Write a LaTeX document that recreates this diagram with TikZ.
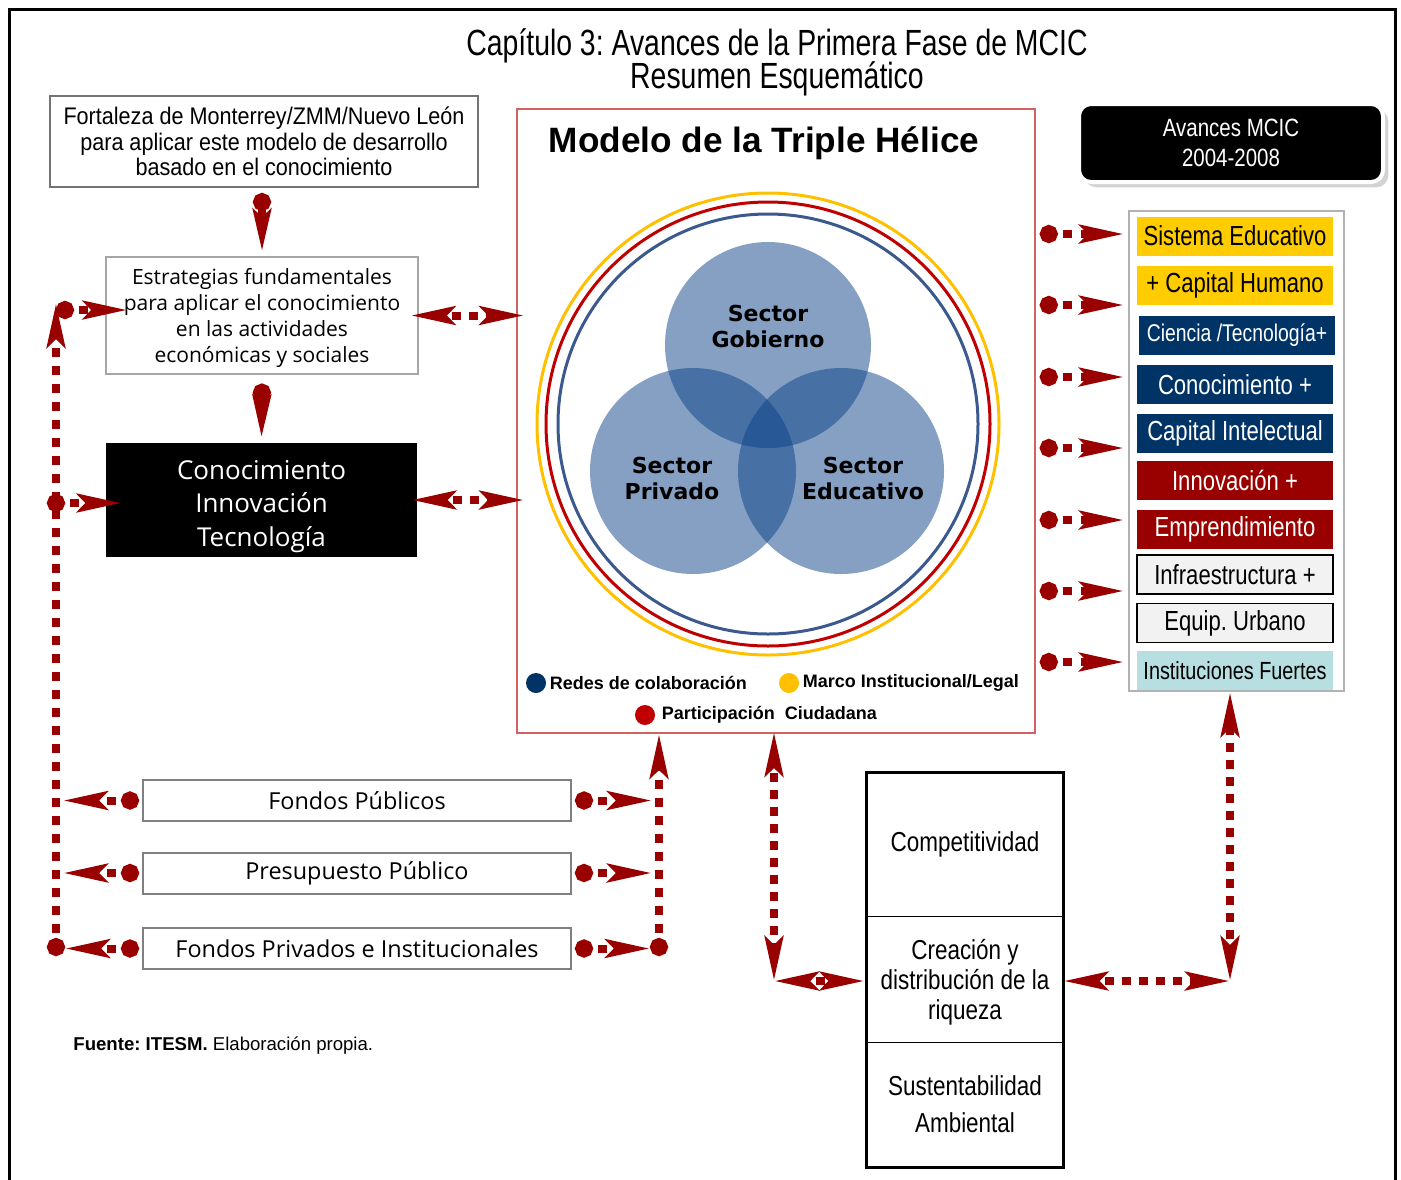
\documentclass[tikz,border=0pt]{standalone}
\usepackage{fontspec}
\setmainfont{Liberation Sans}
\newfontfamily\narrowfont[FakeStretch=0.82]{Liberation Sans}
\newfontfamily\listfont[FakeStretch=0.8]{Liberation Sans}
\newfontfamily\titlefont[FakeStretch=0.78]{Liberation Sans}
\newfontfamily\medfont[FakeStretch=0.9]{Liberation Sans}
\newfontfamily\humfont{Open Sans}
\newfontfamily\sectfont{DejaVu Sans}
\usetikzlibrary{positioning,arrows.meta,shadows}
\definecolor{linkRed}{RGB}{153,0,0}
\definecolor{modelRed}{RGB}{214,96,96}
\definecolor{eduYellow}{RGB}{255,204,0}
\definecolor{navyBlue}{RGB}{0,51,102}
\definecolor{innovRed}{RGB}{153,0,0}
\definecolor{infraGray}{RGB}{242,242,242}
\definecolor{instCyan}{RGB}{183,222,224}
\definecolor{ringYellow}{RGB}{255,192,0}
\definecolor{ringRed}{RGB}{192,0,0}
\definecolor{ringBlue}{RGB}{59,89,140}
\definecolor{vennBlue}{RGB}{11,65,135}
\frenchspacing

\begin{document}
\begin{tikzpicture}[x=.5pt,y=-.5pt,align=center,
  link/.style={draw=linkRed,line width=4pt,dash pattern=on 4.5pt off 4.5pt,dash phase=4.5pt,
    {Circle[length=9pt]}-{Stealth[length=22pt,width=9pt,inset=4pt]}},
  dbl/.style={draw=linkRed,line width=4pt,dash pattern=on 4.5pt off 4pt,dash phase=4pt,
    {Stealth[length=22pt,width=9pt,inset=4pt]}-{Stealth[length=22pt,width=9pt,inset=4pt]}},
  drop/.style={draw=linkRed,line width=4pt,
    {Circle[length=9pt]}-{Stealth[length=21pt,width=9pt,inset=4pt]}},
  listitem/.style={minimum width=98pt,minimum height=19.5pt,inner sep=0pt,
    font=\listfont\fontsize{13.8}{14}\selectfont},
  fondo/.style={draw=black!50,line width=1pt,minimum width=214pt,minimum height=20.5pt,
    inner sep=0pt,font=\humfont\fontsize{11.7}{12}\selectfont},
  venn/.style={circle,fill=vennBlue,fill opacity=.5,minimum size=103pt,inner sep=0pt},
  ring/.style={circle,line width=1.5pt,inner sep=0pt},
  secttext/.style={font=\sectfont\bfseries\fontsize{11}{13}\selectfont},
  legdot/.style={circle,minimum size=10pt,inner sep=0pt},
  legtext/.style={inner sep=0pt,font=\bfseries\fontsize{9}{10}\selectfont},
  result/.style={minimum width=98pt,inner sep=0pt}]
\useasboundingbox (0,0) rectangle (1401,1179);
\draw[line width=1.5pt] (9,1185) -- (9,9) -- (1395,9) -- (1395,1185);

% title
\node[font={\titlefont\fontsize{18.2}{16.5}\selectfont\lineskiplimit-20pt\relax}] (title) at (777,62)
  {Capítulo 3: Avances de la Primera Fase de MCIC\\Resumen Esquemático};

% left column
\node[draw=black!55,line width=1pt,minimum width=214pt,minimum height=45.5pt,inner sep=0pt,
  font=\medfont\fontsize{12}{12.75}\selectfont] (fort) at (264,141.5)
  {Fortaleza de Monterrey/ZMM/Nuevo León\\para aplicar este modelo de desarrollo\\basado en el conocimiento};
\node[draw=black!35,line width=.6pt,minimum width=156pt,minimum height=58.5pt,inner sep=0pt,
  font=\humfont\fontsize{10.5}{13}\selectfont] (estr) at (262,315.5)
  {\rule{0pt}{11pt}Estrategias fundamentales\\para aplicar el conocimiento\\en las actividades\\económicas y sociales};
\node[fill=black,text=white,minimum width=155.5pt,minimum height=57pt,inner sep=0pt,
  font=\humfont\fontsize{13}{16.7}\selectfont] (cit) at (261.5,500)
  {\rule{0pt}{16pt}Conocimiento\\Innovación\\Tecnología};

\node[fondo] (fpub) at (357,800.5) {Fondos Públicos};
\node[fondo] (fpre) at (357,873) {Presupuesto Público};
\node[fondo] (fpri) at (357,948.5) {Fondos Privados e Institucionales};

\node[anchor=west,inner sep=0pt,font=\fontsize{9.3}{10}\selectfont] (fuente) at (73,1046)
  {\textbf{Fuente: ITESM.} Elaboración propia.};

% triple helix
\node[draw=modelRed,line width=.8pt,minimum width=259pt,minimum height=312pt,inner sep=0pt] (model) at (776,421) {};
\node[font=\bfseries\fontsize{17.6}{18}\selectfont] (mtitle) at (764,143) {Modelo de la Triple Hélice};
\node[ring,draw=ringYellow,minimum size=231pt] (ringy) at (768,424) {};
\node[ring,draw=ringRed,minimum size=222pt] (ringr) at (768,424) {};
\node[ring,draw=ringBlue,minimum size=210pt] (ringb) at (768,424) {};
\node[venn] (gob) at (768,345) {};
\node[venn] (pri) at (693,471) {};
\node[venn] (edu) at (841,471) {};
\node[secttext] (tgob) at (768,326) {Sector\\Gobierno};
\node[secttext] (tpri) at (672,478) {Sector\\Privado};
\node[secttext] (tedu) at (863,478) {Sector\\Educativo};

\node[legdot,fill=navyBlue] (dredes) at (536,683) {};
\node[legtext,right=1.5pt of dredes] (lredes) {Redes de colaboración};
\node[legdot,fill=ringYellow] (dmarco) at (789,683) {};
\node[legtext,right=1.5pt of dmarco] (lmarco) {Marco Institucional/Legal};
\node[legdot,fill=ringRed] (dpart) at (645,715) {};
\node[legtext,right=3pt of dpart] (lpart) {Participación~ Ciudadana};

% avances
\node[fill=black,draw=white,line width=2pt,rounded corners=6pt,drop shadow={opacity=.35},
  minimum width=152pt,minimum height=39pt,inner sep=0pt,text=white,
  font=\narrowfont\fontsize{12.5}{15}\selectfont] (avances) at (1231,143)
  {Avances MCIC\\2004-2008};

\node[draw=black!30,line width=1pt,minimum width=107.5pt,minimum height=240pt,inner sep=0pt] (list) at (1236.5,451) {};
\node[listitem,fill=eduYellow] (sis) at (1235,236) {Sistema Educativo};
\node[listitem,fill=eduYellow] (cap) at (1235,285.5) {+ Capital Humano};
\node[listitem,fill=navyBlue,text=white,font=\listfont\fontsize{12.1}{12}\selectfont] (cie) at (1237,335.5) {Ciencia /Tecnología+};
\node[listitem,fill=navyBlue,text=white] (con) at (1235,384.5) {Conocimiento +};
\node[listitem,fill=navyBlue,text=white] (cin) at (1235,433.5) {Capital Intelectual};
\node[listitem,fill=innovRed,text=white] (inn) at (1235,480.5) {Innovación +};
\node[listitem,fill=innovRed,text=white] (emp) at (1235,529.5) {Emprendimiento};
\node[listitem,fill=infraGray,draw=black,line width=.8pt] (inf) at (1235,574.5) {Infraestructura +};
\node[listitem,fill=infraGray,draw=black,line width=.8pt] (equ) at (1235,623) {Equip. Urbano};
\node[listitem,fill=instCyan,font=\listfont\fontsize{12.4}{12}\selectfont] (ins) at (1235,670.5) {Instituciones Fuertes};

% results
\node[result,minimum height=71.5pt,font=\narrowfont\fontsize{13.7}{15}\selectfont] (comp) at (965,844.5) {Competitividad};
\node[result,minimum height=63pt,font=\narrowfont\fontsize{13.7}{15}\selectfont] (crea) at (965,979) {\rule{0pt}{13pt}Creación y\\distribución de la\\riqueza};
\node[result,minimum height=62.5pt,font=\narrowfont\fontsize{13.7}{18.5}\selectfont] (sust) at (965,1104.5) {Sustentabilidad\\Ambiental};
\draw[line width=.6pt] (comp.south west) -- (comp.south east);
\draw[line width=.6pt] (crea.south west) -- (crea.south east);
\draw[line width=1.5pt] (comp.north west) rectangle (sust.south east);

% connectors
\coordinate (lbot) at (56,956);
\coordinate (ltop) at (56,303);
\coordinate (lest) at (56,310);
\coordinate (lcit) at (47,503);
\coordinate (rbot) at (659,956);
\coordinate (ca) at (774,981);
\coordinate (cb) at (1230,981);

\draw[drop,shorten <=2.5pt,shorten >=2.5pt] (fort.south -| estr.north) -- (estr.north);
\draw[drop,shorten <=4.5pt,shorten >=2.5pt] (estr.south) -- (cit.north);
\draw[dbl,shorten <=-4pt,shorten >=-4pt] (estr.east) -- (model.west |- estr.east);
\draw[dbl,shorten <=-3pt,shorten >=-4pt] (cit.east) -- (model.west |- cit.east);

\draw[link] (lbot) -- (ltop);
\draw[link,shorten >=-11pt] (lest) -- (estr.west |- lest);
\draw[link,shorten >=-8pt] (lcit) -- (cit.west |- lcit);
\draw[link,shorten <=1.5pt,shorten >=3.5pt] (fpub.west) -- (fpub.west -| lbot);
\draw[link,shorten <=1.5pt,shorten >=3.5pt] (fpre.west) -- (fpre.west -| lbot);
\draw[link,shorten <=1.5pt,shorten >=4.5pt] (fpri.west) -- (fpri.west -| lbot);

\draw[link] (rbot) -- (model.south -| rbot);
\draw[link,shorten <=1.5pt,shorten >=3.5pt] (fpub.east) -- (fpub.east -| rbot);
\draw[link,shorten <=1.5pt,shorten >=3.5pt] (fpre.east) -- (fpre.east -| rbot);
\draw[link,shorten <=1.5pt,shorten >=4.5pt] (fpri.east) -- (fpri.east -| rbot);

\foreach \yy in {234,305,377,448,520,591,662}
  \draw[link,shorten <=2pt,shorten >=2pt] (model.east |- 0,\yy) -- (list.west |- 0,\yy);

\draw[dbl,shorten <=-1pt] (model.south -| ca) -- (ca);
\draw[dbl,shorten >=1pt] (ca) -- (crea.west |- ca);
\draw[dbl] (crea.east |- cb) -- (cb);
\draw[dbl] (cb) -- (list.south -| cb);

\end{tikzpicture}
\end{document}
